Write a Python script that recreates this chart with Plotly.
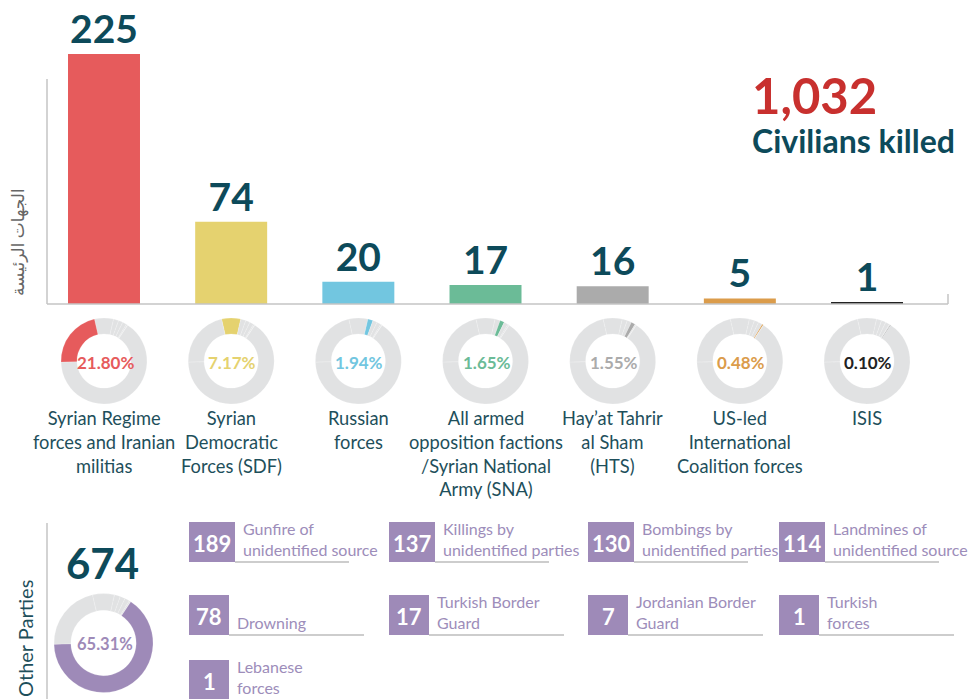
import plotly.graph_objects as go

W, H = 968, 699

# ---------------- data ----------------
main_labels = [
    "Syrian Regime<br>forces and Iranian<br>militias",
    "Syrian<br>Democratic<br>Forces (SDF)",
    "Russian<br>forces",
    "All armed<br>opposition factions<br>/Syrian National<br>Army (SNA)",
    "Hay’at Tahrir<br>al Sham<br>(HTS)",
    "US-led<br>International<br>Coalition forces",
    "ISIS",
]
main_values = [225, 74, 20, 17, 16, 5, 1]
main_colors = ["#e65b5c", "#e5d26f", "#72c6e0", "#6bbb97", "#ababab", "#db9c4b", "#222222"]

other_labels = [
    "Gunfire of<br>unidentified source",
    "Killings by<br>unidentified parties",
    "Bombings by<br>unidentified parties",
    "Landmines of<br>unidentified source",
    "Drowning",
    "Turkish Border<br>Guard",
    "Jordanian Border<br>Guard",
    "Turkish<br>forces",
    "Lebanese<br>forces",
]
other_values = [189, 137, 130, 114, 78, 17, 7, 1, 1]
other_color = "#9e8ab8"

total_caption = "Civilians killed"
axis_title = "الجهات الرئيسة"
other_title = "Other Parties"

# order of slices in every ring, clockwise (-1 = other parties)
ring_order = [1, 2, 3, 4, 5, 6, -1, 0]

# ---------------- derived ----------------
other_total = sum(other_values)
total = sum(main_values) + other_total

TEAL = "#0d4a5a"
LABEL = "#1e4f5b"
RING_GRAY = "#e1e2e3"
AXIS_GRAY = "#c4c4c4"
FONT = "Lato, DejaVu Sans, sans-serif"


def px(x):
    return x / W


def py(y):
    return 1 - y / H


# bar plot geometry (pixels)
plot_left, plot_right, base_y = 47, 947, 304
first_c, step = 104, 127.17
r0 = -(first_c - plot_left) / step
r1 = (plot_right - first_c) / step
px_per_unit = 250 / 225
y_top = base_y / px_per_unit

fig = go.Figure()

cats = list(range(len(main_values)))
fig.add_trace(go.Bar(
    x=cats, y=main_values, width=0.566,
    marker=dict(color=main_colors, line=dict(width=0)),
    texttemplate="%{y}", textposition="outside", cliponaxis=False,
    textfont=dict(family=FONT, size=39, color=TEAL, weight="bold"),
    hoverinfo="skip", showlegend=False,
))

annotations = []
shapes = []


def ring_values():
    return [other_total if k == -1 else main_values[k] for k in ring_order]


def ring(cx, cy, r, hi, hole, pct_color, pct_size):
    vals = ring_values()
    cols = []
    for k in ring_order:
        if k == hi:
            cols.append(other_color if k == -1 else main_colors[k])
        else:
            cols.append(RING_GRAY)
    v = other_total if hi == -1 else main_values[hi]
    rot = -(vals[0] / total * 360) / 2
    fig.add_trace(go.Pie(
        values=vals, sort=False, direction="clockwise", rotation=rot,
        hole=hole, textinfo="none", hoverinfo="skip", showlegend=False,
        marker=dict(colors=cols, line=dict(color="rgba(255,255,255,0.35)", width=0.5)),
        domain=dict(x=[px(cx - r), px(cx + r)], y=[py(cy + r), py(cy - r)]),
    ))
    annotations.append(dict(
        x=px(cx + 1), y=py(cy + 1), xref="paper", yref="paper", xanchor="center",
        yanchor="middle", text=f"{v / total * 100:.2f}%", showarrow=False,
        font=dict(family=FONT, size=pct_size, color=pct_color, weight="bold")))


for i in cats:
    cx = plot_left + (i - r0) * step
    ring(cx, 361, 43, i, 0.63, main_colors[i], 17)

ring(103.5, 643, 49.5, -1, 0.66, other_color, 16.5)

# category labels under the rings
for i, lab in enumerate(main_labels):
    annotations.append(dict(
        x=i, xref="x", y=py(405), yref="paper", xanchor="center", yanchor="top",
        text=lab, showarrow=False, align="center",
        font=dict(family=FONT, size=18.3, color=LABEL)))

# headline
annotations.append(dict(x=px(750), y=py(95), xref="paper", yref="paper", xanchor="left",
                        yanchor="middle", text=f"{total:,}", showarrow=False,
                        font=dict(family=FONT, size=49, color="#c8302e", weight="bold")))
annotations.append(dict(x=px(750), y=py(140), xref="paper", yref="paper", xanchor="left",
                        yanchor="middle", text=total_caption, showarrow=False,
                        font=dict(family=FONT, size=32, color=TEAL, weight="bold")))
# axis title
annotations.append(dict(x=px(18), y=py(242), xref="paper", yref="paper", xanchor="center",
                        yanchor="middle", text=axis_title, textangle=-90, showarrow=False,
                        font=dict(family=FONT, size=17, color="#666666")))
# other parties section
annotations.append(dict(x=px(25), y=py(639), xref="paper", yref="paper", xanchor="center",
                        yanchor="middle", text=other_title, textangle=-90, showarrow=False,
                        font=dict(family=FONT, size=20, color=LABEL)))
annotations.append(dict(x=px(102), y=py(563), xref="paper", yref="paper", xanchor="center",
                        yanchor="middle", text=f"{other_total}", showarrow=False,
                        font=dict(family=FONT, size=42, color=TEAL, weight="bold")))

# axis lines
line = dict(color=AXIS_GRAY, width=1.5)
shapes.append(dict(type="line", xref="paper", yref="paper", x0=px(47), x1=px(47),
                   y0=py(79), y1=py(base_y), line=line))
shapes.append(dict(type="line", xref="paper", yref="paper", x0=px(47), x1=px(948),
                   y0=py(base_y), y1=py(base_y), line=line))
shapes.append(dict(type="line", xref="paper", yref="paper", x0=px(948), x1=px(948),
                   y0=py(294), y1=py(base_y), line=line))
shapes.append(dict(type="line", xref="paper", yref="paper", x0=px(47), x1=px(47),
                   y0=py(523), y1=py(H), line=line))

# other parties grid
col_x = [189, 389, 588, 779]
row_y = [522, 595, 660]
row_line = [160, 175, 175]
for j, (lab, v) in enumerate(zip(other_labels, other_values)):
    row, col = divmod(j, 4)
    bx, by = col_x[col], row_y[row]
    bw = 46 if v >= 100 else 40
    bh = 40
    shapes.append(dict(type="rect", xref="paper", yref="paper",
                       x0=px(bx), x1=px(bx + bw), y0=py(by + bh), y1=py(by),
                       fillcolor=other_color, line=dict(width=0), layer="above"))
    shapes.append(dict(type="line", xref="paper", yref="paper",
                       x0=px(bx + bw), x1=px(bx + row_line[row]), y0=py(by + bh), y1=py(by + bh),
                       line=dict(color="#bdbdbd", width=1.5)))
    annotations.append(dict(x=px(bx + bw / 2), y=py(by + bh / 2 + 1), xref="paper", yref="paper",
                            xanchor="center", yanchor="middle", text=f"{v}", showarrow=False,
                            font=dict(family=FONT, size=22, color="white", weight="bold")))
    annotations.append(dict(x=px(bx + bw + 6), y=py(by + bh - 1), xref="paper", yref="paper",
                            xanchor="left", yanchor="bottom", text=lab, showarrow=False,
                            align="left",
                            font=dict(family=FONT, size=16, color="#9d8dba")))

fig.update_layout(
    width=W, height=H, margin=dict(l=0, r=0, t=0, b=0),
    paper_bgcolor="white", plot_bgcolor="white",
    xaxis=dict(domain=[px(plot_left), px(plot_right)], range=[r0, r1], visible=False,
               fixedrange=True),
    yaxis=dict(domain=[py(base_y), 1], range=[0, y_top], visible=False, fixedrange=True),
    annotations=annotations, shapes=shapes,
    font=dict(family=FONT),
)

fig.write_html("out.html", config={"displayModeBar": False},
               post_script="document.body.style.margin='0';document.body.style.overflow='hidden';")
